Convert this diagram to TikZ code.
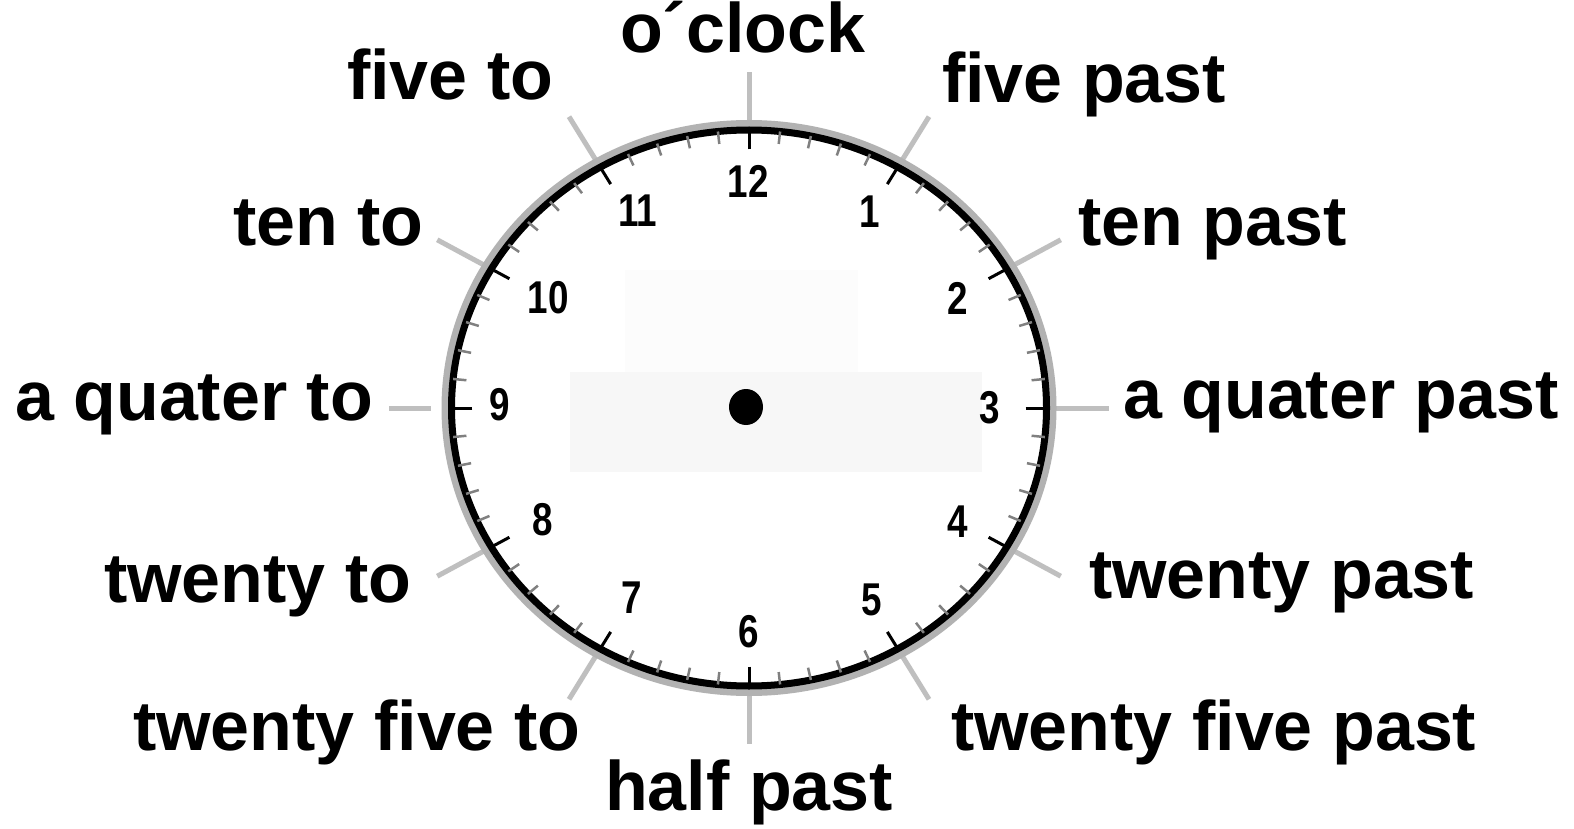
\documentclass[tikz,border=0pt]{standalone}
\usepackage{fontspec}
\setmainfont{Liberation Sans}
\begin{document}
\begin{tikzpicture}[x=1pt,y=-1pt,
  lbl/.style={font=\fontsize{70}{80}\selectfont\bfseries, anchor=base west, inner sep=0pt},
  num/.style={font=\fontsize{46}{50}\selectfont\bfseries, inner sep=0pt, anchor=center},
  spoke/.style={draw=black!25, line width=5pt},
  minortick/.style={draw=black!50, line width=2.5pt},
  majortick/.style={draw=black, line width=3pt},
  halo/.style={draw=black!30, line width=9pt},
  ring/.style={draw=black, line width=7pt}
]
\def\cx{749}\def\cy{408}\def\rx{297.5}\def\ry{278}
\fill[white] (0,0) rectangle (1574,829);
\useasboundingbox (0,0) rectangle (1574,829);
% faint panels
\fill[black!1] (625,270) rectangle (858,372);
\fill[black!3] (570,372) rectangle (982,472);
% outer spokes
\foreach \k in {0,...,11}{
  \pgfmathsetmacro{\a}{90-30*\k}
  \pgfmathsetmacro{\s}{ifthenelse(\k==9,1.07,1.02)}
  \draw[spoke] ({\cx+\rx*\s*cos(\a)},{\cy-\ry*\s*sin(\a)}) -- ({\cx+\rx*1.21*cos(\a)},{\cy-\ry*1.21*sin(\a)});
}
% halo and ring
\draw[halo] (\cx,\cy) ellipse [x radius=303pt, y radius=283.5pt];
\draw[ring] (\cx,\cy) ellipse [x radius=\rx pt, y radius=\ry pt];
% ticks
\foreach \i in {0,...,59}{
  \pgfmathsetmacro{\a}{90-6*\i}
  \pgfmathtruncatemacro{\m}{mod(\i,5)}
  \ifnum\m=0
    \draw[majortick] ({\cx+\rx*0.93*cos(\a)},{\cy-\ry*0.93*sin(\a)}) -- ({\cx+\rx*cos(\a)},{\cy-\ry*sin(\a)});
  \else
    \draw[minortick] ({\cx+\rx*0.955*cos(\a)},{\cy-\ry*0.955*sin(\a)}) -- ({\cx+\rx*cos(\a)},{\cy-\ry*sin(\a)});
  \fi
}
% centre dot
\fill[black] (746,407) ellipse [x radius=17pt, y radius=18pt];
% hour numbers
\node[num] (n12) at (748,181) {\scalebox{0.8}[1]{12}};
\node[num] (n1) at (870,212) {\scalebox{0.8}[1]{1}};
\node[num] (n2) at (958,298) {\scalebox{0.8}[1]{2}};
\node[num] (n3) at (990,408) {\scalebox{0.8}[1]{3}};
\node[num] (n4) at (958,522) {\scalebox{0.8}[1]{4}};
\node[num] (n5) at (872,600) {\scalebox{0.8}[1]{5}};
\node[num] (n6) at (749,632) {\scalebox{0.8}[1]{6}};
\node[num] (n7) at (632,598) {\scalebox{0.8}[1]{7}};
\node[num] (n8) at (543,520) {\scalebox{0.8}[1]{8}};
\node[num] (n9) at (500,405) {\scalebox{0.8}[1]{9}};
\node[num] (n10) at (548,298) {\scalebox{0.8}[1]{10}};
\node[num] (n11) at (638,211) {\scalebox{0.8}[1]{11}};
% labels
\node[lbl] (l0) at (620,53) {o´clock};
\node[lbl] (l5) at (942,103) {five past};
\node[lbl] (l55) at (347,100) {five to};
\node[lbl] (l10) at (1078,246) {ten past};
\node[lbl] (l50) at (233,246) {ten to};
\node[lbl] (l15) at (1123,418) {a quater past};
\node[lbl] (l45) at (15,420) {a quater to};
\node[lbl] (l20) at (1089,598) {twenty past};
\node[lbl] (l40) at (104,602) {twenty to};
\node[lbl] (l25) at (951,750) {twenty five past};
\node[lbl] (l35) at (133,750) {twenty five to};
\node[lbl] (l30) at (605,810) {half past};
\end{tikzpicture}
\end{document}
